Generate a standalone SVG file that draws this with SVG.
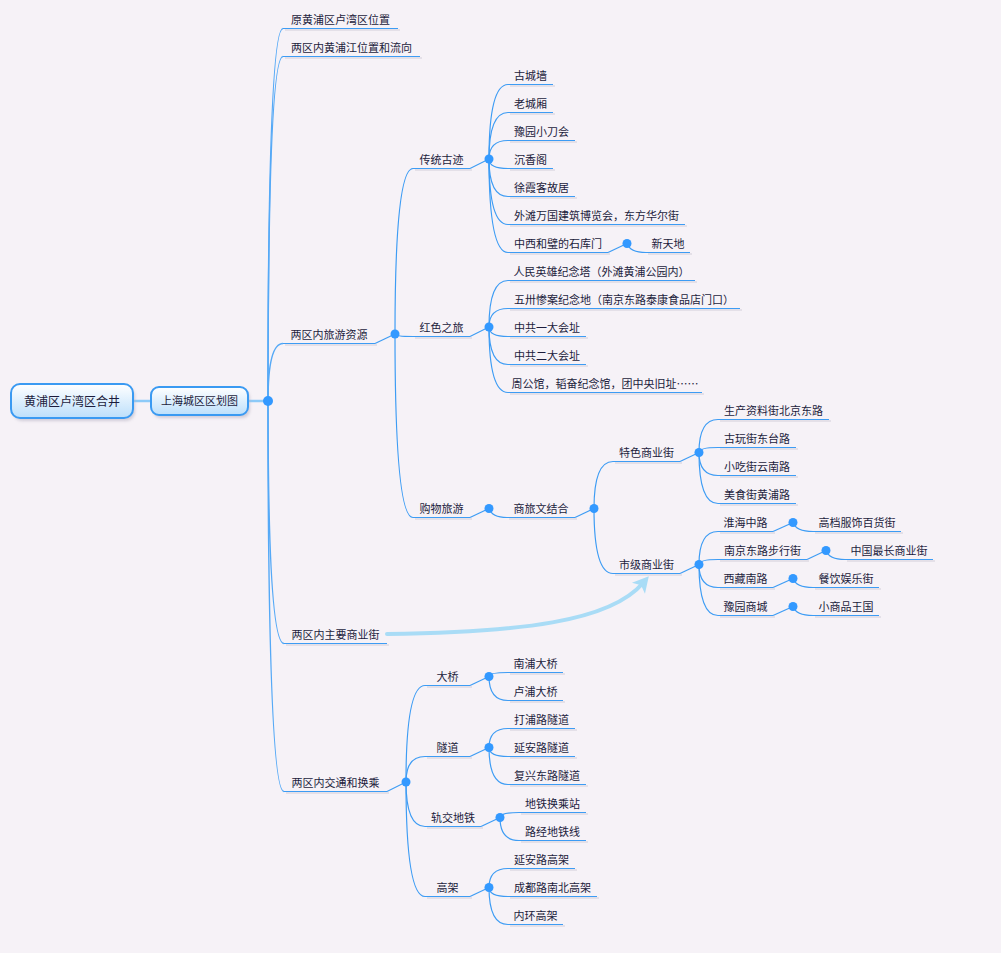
<svg xmlns="http://www.w3.org/2000/svg" width="1001" height="953" viewBox="0 0 1001 953">
<defs>
<style>
.t{font-family:"Noto Sans CJK SC","Noto Sans",sans-serif;font-size:11px;fill:#1c1c3c;text-anchor:middle}
.tr{font-family:"Noto Sans CJK SC","Noto Sans",sans-serif;font-size:12px;fill:#1c1c3c;text-anchor:middle}
.ul{stroke:#3d9cf4;stroke-width:1.2;fill:none}
.sh{stroke:#dedae3;stroke-width:1.5;fill:none}
.c{stroke:#3d9cf4;stroke-width:1.2;fill:none}
.c1{stroke:#55a9f6;stroke-width:1.5;fill:none}
.rc{stroke:#8ccaf8;stroke-width:2.5;fill:none}
.dot{fill:#3399ff}
.box{fill:url(#g);stroke:#3a9af2;stroke-width:2}
</style>
<linearGradient id="g" x1="0" y1="0" x2="0" y2="1">
<stop offset="0" stop-color="#ffffff"/>
<stop offset="1" stop-color="#bcdffb"/>
</linearGradient>
<filter id="ds" x="-20%" y="-30%" width="140%" height="180%">
<feGaussianBlur stdDeviation="1.5"/>
</filter>
<marker id="ah" viewBox="-14 -9 17 18" markerWidth="17" markerHeight="18" refX="-6" refY="0" orient="auto" markerUnits="userSpaceOnUse">
<path d="M3,0 L-13,-8.5 L-9,0 L-13,8.5 Z" fill="#a9dcf6"/>
</marker>
</defs>
<rect width="1001" height="953" fill="#f6f2f7"/>

<g id="connectors">
<line class="rc" x1="133" y1="401" x2="151" y2="401"/>
<line class="rc" x1="248" y1="401" x2="268" y2="401"/>
<path class="c1" d="M268,401 Q268,28.5 283,28.5"/>
<path class="c1" d="M268,401 Q268,56.5 283,56.5"/>
<path class="c1" d="M268,401 Q268,343.5 283,343.5"/>
<path class="c1" d="M268,401 Q268,643.5 284,643.5"/>
<path class="c1" d="M268,401 Q268,791.5 284,791.5"/>
<path class="c" d="M375,343.5 L395,334"/>
<path class="c" d="M395,334 Q395,168.5 413,168.5"/>
<path class="c" d="M395,334 Q395,336.5 413,336.5"/>
<path class="c" d="M395,334 Q395,517.5 413,517.5"/>
<path class="c" d="M470,168.5 L489,159"/>
<path class="c" d="M489,159 Q489,84.5 508,84.5"/>
<path class="c" d="M489,159 Q489,112.5 508,112.5"/>
<path class="c" d="M489,159 Q489,140.5 508,140.5"/>
<path class="c" d="M489,159 Q489,168.5 508,168.5"/>
<path class="c" d="M489,159 Q489,196.5 508,196.5"/>
<path class="c" d="M489,159 Q489,224.5 508,224.5"/>
<path class="c" d="M489,159 Q489,252.5 508,252.5"/>
<path class="c" d="M608,252.5 L627,243.5"/>
<path class="c" d="M627,243.5 Q630,252.5 646,252.5"/>
<path class="c" d="M470,336.5 L489,327"/>
<path class="c" d="M489,327 Q489,280.5 508,280.5"/>
<path class="c" d="M489,327 Q489,308.5 508,308.5"/>
<path class="c" d="M489,327 Q489,336.5 508,336.5"/>
<path class="c" d="M489,327 Q489,364.5 508,364.5"/>
<path class="c" d="M489,327 Q489,392.5 508,392.5"/>
<path class="c" d="M470,517.5 L489,508.5"/>
<path class="c" d="M489,508.5 Q492,517.5 507,517.5"/>
<path class="c" d="M575,517.5 L594,508.5"/>
<path class="c" d="M594,508.5 Q594,461.5 613,461.5"/>
<path class="c" d="M594,508.5 Q594,573.5 613,573.5"/>
<path class="c" d="M680,461.5 L699,452.5"/>
<path class="c" d="M699,452.5 Q699,419.5 718,419.5"/>
<path class="c" d="M699,452.5 Q699,447.5 718,447.5"/>
<path class="c" d="M699,452.5 Q699,475.5 718,475.5"/>
<path class="c" d="M699,452.5 Q699,503.5 718,503.5"/>
<path class="c" d="M680,573.5 L699,564.5"/>
<path class="c" d="M699,564.5 Q699,531.5 718,531.5"/>
<path class="c" d="M699,564.5 Q699,559.5 718,559.5"/>
<path class="c" d="M699,564.5 Q699,587.5 718,587.5"/>
<path class="c" d="M699,564.5 Q699,615.5 718,615.5"/>
<path class="c" d="M773,531.5 L793,522.5"/>
<path class="c" d="M793,522.5 Q796,531.5 813,531.5"/>
<path class="c" d="M807,559.5 L826,550.5"/>
<path class="c" d="M826,550.5 Q829,559.5 845,559.5"/>
<path class="c" d="M773,587.5 L793,578.5"/>
<path class="c" d="M793,578.5 Q796,587.5 813,587.5"/>
<path class="c" d="M773,615.5 L793,606.5"/>
<path class="c" d="M793,606.5 Q796,615.5 813,615.5"/>
<path class="c" d="M387,791.5 L406,782"/>
<path class="c" d="M406,782 Q406,685.5 425,685.5"/>
<path class="c" d="M406,782 Q406,756.5 425,756.5"/>
<path class="c" d="M406,782 Q406,826.5 425,826.5"/>
<path class="c" d="M406,782 Q406,896.5 425,896.5"/>
<path class="c" d="M470,685.5 L489,676.5"/>
<path class="c" d="M489,676.5 Q489,672.5 508,672.5"/>
<path class="c" d="M489,676.5 Q489,700.5 508,700.5"/>
<path class="c" d="M470,756.5 L489,747.5"/>
<path class="c" d="M489,747.5 Q489,728.5 508,728.5"/>
<path class="c" d="M489,747.5 Q489,756.5 508,756.5"/>
<path class="c" d="M489,747.5 Q489,784.5 508,784.5"/>
<path class="c" d="M481,826.5 L500,817.5"/>
<path class="c" d="M500,817.5 Q500,812.5 519,812.5"/>
<path class="c" d="M500,817.5 Q500,840.5 519,840.5"/>
<path class="c" d="M470,896.5 L489,887.5"/>
<path class="c" d="M489,887.5 Q489,868.5 508,868.5"/>
<path class="c" d="M489,887.5 Q489,896.5 508,896.5"/>
<path class="c" d="M489,887.5 Q489,924.5 508,924.5"/>
<circle class="dot" cx="268" cy="401" r="5"/>
<circle class="dot" cx="395" cy="334" r="4.5"/>
<circle class="dot" cx="489" cy="159" r="4.5"/>
<circle class="dot" cx="627" cy="243.5" r="4.5"/>
<circle class="dot" cx="489" cy="327" r="4.5"/>
<circle class="dot" cx="489" cy="508.5" r="4.5"/>
<circle class="dot" cx="594" cy="508.5" r="4.5"/>
<circle class="dot" cx="699" cy="452.5" r="4.5"/>
<circle class="dot" cx="699" cy="564.5" r="4.5"/>
<circle class="dot" cx="793" cy="522.5" r="4.5"/>
<circle class="dot" cx="826" cy="550.5" r="4.5"/>
<circle class="dot" cx="793" cy="578.5" r="4.5"/>
<circle class="dot" cx="793" cy="606.5" r="4.5"/>
<circle class="dot" cx="406" cy="782" r="4.5"/>
<circle class="dot" cx="489" cy="676.5" r="4.5"/>
<circle class="dot" cx="489" cy="747.5" r="4.5"/>
<circle class="dot" cx="500" cy="817.5" r="4.5"/>
<circle class="dot" cx="489" cy="887.5" r="4.5"/>
<path d="M387,634 C520,632 610,622 643,583" fill="none" stroke="#a9dcf6" stroke-width="4" stroke-linecap="round" marker-end="url(#ah)"/>
</g>

<g id="root">
<rect x="13" y="387" width="122" height="34" rx="9" fill="#b8b4c4" opacity="0.6" filter="url(#ds)"/>
<rect class="box" x="11" y="384" width="122" height="34" rx="9"/>
<text class="tr" x="72" y="405.5">黄浦区卢湾区合井</text>
</g>
<g id="n0">
<rect x="153" y="390" width="97" height="28" rx="8" fill="#b8b4c4" opacity="0.6" filter="url(#ds)"/>
<rect class="box" x="151" y="387" width="97" height="28" rx="8"/>
<text class="t" x="199.5" y="405">上海城区区划图</text>
</g>

<g id="n1"><line class="sh" x1="285" y1="30" x2="400" y2="30"/><line class="ul" x1="283" y1="28.5" x2="398" y2="28.5"/><text class="t" x="340.5" y="23.5">原黄浦区卢湾区位置</text></g>
<g id="n2"><line class="sh" x1="285" y1="58" x2="422" y2="58"/><line class="ul" x1="283" y1="56.5" x2="420" y2="56.5"/><text class="t" x="351.5" y="51.5">两区内黄浦江位置和流向</text></g>
<g id="n3"><line class="sh" x1="285" y1="345" x2="377" y2="345"/><line class="ul" x1="283" y1="343.5" x2="375" y2="343.5"/><text class="t" x="329" y="338.5">两区内旅游资源</text></g>
<g id="n4"><line class="sh" x1="286" y1="645" x2="389" y2="645"/><line class="ul" x1="284" y1="643.5" x2="387" y2="643.5"/><text class="t" x="335.5" y="638.5">两区内主要商业街</text></g>
<g id="n5"><line class="sh" x1="286" y1="793" x2="389" y2="793"/><line class="ul" x1="284" y1="791.5" x2="387" y2="791.5"/><text class="t" x="335.5" y="786.5">两区内交通和换乘</text></g>

<g id="n3a"><line class="sh" x1="415" y1="170" x2="472" y2="170"/><line class="ul" x1="413" y1="168.5" x2="470" y2="168.5"/><text class="t" x="441.5" y="163.5">传统古迹</text></g>
<g id="n3a1"><line class="sh" x1="510" y1="86" x2="555" y2="86"/><line class="ul" x1="508" y1="84.5" x2="553" y2="84.5"/><text class="t" x="530.5" y="79.5">古城墙</text></g>
<g id="n3a2"><line class="sh" x1="510" y1="114" x2="555" y2="114"/><line class="ul" x1="508" y1="112.5" x2="553" y2="112.5"/><text class="t" x="530.5" y="107.5">老城厢</text></g>
<g id="n3a3"><line class="sh" x1="510" y1="142" x2="577" y2="142"/><line class="ul" x1="508" y1="140.5" x2="575" y2="140.5"/><text class="t" x="541.5" y="135.5">豫园小刀会</text></g>
<g id="n3a4"><line class="sh" x1="510" y1="170" x2="555" y2="170"/><line class="ul" x1="508" y1="168.5" x2="553" y2="168.5"/><text class="t" x="530.5" y="163.5">沉香阁</text></g>
<g id="n3a5"><line class="sh" x1="510" y1="198" x2="577" y2="198"/><line class="ul" x1="508" y1="196.5" x2="575" y2="196.5"/><text class="t" x="541.5" y="191.5">徐霞客故居</text></g>
<g id="n3a6"><line class="sh" x1="510" y1="226" x2="687" y2="226"/><line class="ul" x1="508" y1="224.5" x2="685" y2="224.5"/><text class="t" x="596.5" y="219.5">外滩万国建筑博览会，东方华尔街</text></g>
<g id="n3a7"><line class="sh" x1="510" y1="254" x2="610" y2="254"/><line class="ul" x1="508" y1="252.5" x2="608" y2="252.5"/><text class="t" x="558" y="247.5">中西和璧的石库门</text></g>
<g id="n3a7a"><line class="sh" x1="648" y1="254" x2="692" y2="254"/><line class="ul" x1="646" y1="252.5" x2="690" y2="252.5"/><text class="t" x="668" y="247.5">新天地</text></g>

<g id="n3b"><line class="sh" x1="415" y1="338" x2="472" y2="338"/><line class="ul" x1="413" y1="336.5" x2="470" y2="336.5"/><text class="t" x="441.5" y="331.5">红色之旅</text></g>
<g id="n3b1"><line class="sh" x1="510" y1="282" x2="697" y2="282"/><line class="ul" x1="508" y1="280.5" x2="695" y2="280.5"/><text class="t" x="601.5" y="275.5">人民英雄纪念塔（外滩黄浦公园内）</text></g>
<g id="n3b2"><line class="sh" x1="510" y1="310" x2="742" y2="310"/><line class="ul" x1="508" y1="308.5" x2="740" y2="308.5"/><text class="t" x="624" y="303.5">五卅惨案纪念地（南京东路泰康食品店门口）</text></g>
<g id="n3b3"><line class="sh" x1="510" y1="338" x2="588" y2="338"/><line class="ul" x1="508" y1="336.5" x2="586" y2="336.5"/><text class="t" x="547" y="331.5">中共一大会址</text></g>
<g id="n3b4"><line class="sh" x1="510" y1="366" x2="588" y2="366"/><line class="ul" x1="508" y1="364.5" x2="586" y2="364.5"/><text class="t" x="547" y="359.5">中共二大会址</text></g>
<g id="n3b5"><line class="sh" x1="510" y1="394" x2="704" y2="394"/><line class="ul" x1="508" y1="392.5" x2="702" y2="392.5"/><text class="t" x="605" y="387.5">周公馆，韬奋纪念馆，团中央旧址……</text></g>

<g id="n3c"><line class="sh" x1="415" y1="519" x2="472" y2="519"/><line class="ul" x1="413" y1="517.5" x2="470" y2="517.5"/><text class="t" x="441.5" y="512.5">购物旅游</text></g>
<g id="n3c1"><line class="sh" x1="509" y1="519" x2="577" y2="519"/><line class="ul" x1="507" y1="517.5" x2="575" y2="517.5"/><text class="t" x="541" y="512.5">商旅文结合</text></g>
<g id="n3c1a"><line class="sh" x1="615" y1="463" x2="682" y2="463"/><line class="ul" x1="613" y1="461.5" x2="680" y2="461.5"/><text class="t" x="646.5" y="456.5">特色商业街</text></g>
<g id="n3c1a1"><line class="sh" x1="720" y1="421" x2="831" y2="421"/><line class="ul" x1="718" y1="419.5" x2="829" y2="419.5"/><text class="t" x="773.5" y="414.5">生产资料街北京东路</text></g>
<g id="n3c1a2"><line class="sh" x1="720" y1="449" x2="798" y2="449"/><line class="ul" x1="718" y1="447.5" x2="796" y2="447.5"/><text class="t" x="757" y="442.5">古玩街东台路</text></g>
<g id="n3c1a3"><line class="sh" x1="720" y1="477" x2="798" y2="477"/><line class="ul" x1="718" y1="475.5" x2="796" y2="475.5"/><text class="t" x="757" y="470.5">小吃街云南路</text></g>
<g id="n3c1a4"><line class="sh" x1="720" y1="505" x2="798" y2="505"/><line class="ul" x1="718" y1="503.5" x2="796" y2="503.5"/><text class="t" x="757" y="498.5">美食街黄浦路</text></g>
<g id="n3c1b"><line class="sh" x1="615" y1="575" x2="682" y2="575"/><line class="ul" x1="613" y1="573.5" x2="680" y2="573.5"/><text class="t" x="646.5" y="568.5">市级商业街</text></g>
<g id="n3c1b1"><line class="sh" x1="720" y1="533" x2="775" y2="533"/><line class="ul" x1="718" y1="531.5" x2="773" y2="531.5"/><text class="t" x="745.5" y="526.5">淮海中路</text></g>
<g id="n3c1b1a"><line class="sh" x1="815" y1="533" x2="903" y2="533"/><line class="ul" x1="813" y1="531.5" x2="901" y2="531.5"/><text class="t" x="857" y="526.5">高档服饰百货街</text></g>
<g id="n3c1b2"><line class="sh" x1="720" y1="561" x2="809" y2="561"/><line class="ul" x1="718" y1="559.5" x2="807" y2="559.5"/><text class="t" x="762.5" y="554.5">南京东路步行街</text></g>
<g id="n3c1b2a"><line class="sh" x1="847" y1="561" x2="935" y2="561"/><line class="ul" x1="845" y1="559.5" x2="933" y2="559.5"/><text class="t" x="889" y="554.5">中国最长商业街</text></g>
<g id="n3c1b3"><line class="sh" x1="720" y1="589" x2="775" y2="589"/><line class="ul" x1="718" y1="587.5" x2="773" y2="587.5"/><text class="t" x="745.5" y="582.5">西藏南路</text></g>
<g id="n3c1b3a"><line class="sh" x1="815" y1="589" x2="881" y2="589"/><line class="ul" x1="813" y1="587.5" x2="879" y2="587.5"/><text class="t" x="846" y="582.5">餐饮娱乐街</text></g>
<g id="n3c1b4"><line class="sh" x1="720" y1="617" x2="775" y2="617"/><line class="ul" x1="718" y1="615.5" x2="773" y2="615.5"/><text class="t" x="745.5" y="610.5">豫园商城</text></g>
<g id="n3c1b4a"><line class="sh" x1="815" y1="617" x2="881" y2="617"/><line class="ul" x1="813" y1="615.5" x2="879" y2="615.5"/><text class="t" x="846" y="610.5">小商品王国</text></g>

<g id="n5a"><line class="sh" x1="427" y1="687" x2="472" y2="687"/><line class="ul" x1="425" y1="685.5" x2="470" y2="685.5"/><text class="t" x="447.5" y="680.5">大桥</text></g>
<g id="n5a1"><line class="sh" x1="510" y1="674" x2="565" y2="674"/><line class="ul" x1="508" y1="672.5" x2="563" y2="672.5"/><text class="t" x="535.5" y="667.5">南浦大桥</text></g>
<g id="n5a2"><line class="sh" x1="510" y1="702" x2="565" y2="702"/><line class="ul" x1="508" y1="700.5" x2="563" y2="700.5"/><text class="t" x="535.5" y="695.5">卢浦大桥</text></g>
<g id="n5b"><line class="sh" x1="427" y1="758" x2="472" y2="758"/><line class="ul" x1="425" y1="756.5" x2="470" y2="756.5"/><text class="t" x="447.5" y="751.5">隧道</text></g>
<g id="n5b1"><line class="sh" x1="510" y1="730" x2="577" y2="730"/><line class="ul" x1="508" y1="728.5" x2="575" y2="728.5"/><text class="t" x="541.5" y="723.5">打浦路隧道</text></g>
<g id="n5b2"><line class="sh" x1="510" y1="758" x2="577" y2="758"/><line class="ul" x1="508" y1="756.5" x2="575" y2="756.5"/><text class="t" x="541.5" y="751.5">延安路隧道</text></g>
<g id="n5b3"><line class="sh" x1="510" y1="786" x2="588" y2="786"/><line class="ul" x1="508" y1="784.5" x2="586" y2="784.5"/><text class="t" x="547" y="779.5">复兴东路隧道</text></g>
<g id="n5c"><line class="sh" x1="427" y1="828" x2="483" y2="828"/><line class="ul" x1="425" y1="826.5" x2="481" y2="826.5"/><text class="t" x="453" y="821.5">轨交地铁</text></g>
<g id="n5c1"><line class="sh" x1="521" y1="814" x2="588" y2="814"/><line class="ul" x1="519" y1="812.5" x2="586" y2="812.5"/><text class="t" x="552.5" y="807.5">地铁换乘站</text></g>
<g id="n5c2"><line class="sh" x1="521" y1="842" x2="588" y2="842"/><line class="ul" x1="519" y1="840.5" x2="586" y2="840.5"/><text class="t" x="552.5" y="835.5">路经地铁线</text></g>
<g id="n5d"><line class="sh" x1="427" y1="898" x2="472" y2="898"/><line class="ul" x1="425" y1="896.5" x2="470" y2="896.5"/><text class="t" x="447.5" y="891.5">高架</text></g>
<g id="n5d1"><line class="sh" x1="510" y1="870" x2="577" y2="870"/><line class="ul" x1="508" y1="868.5" x2="575" y2="868.5"/><text class="t" x="541.5" y="863.5">延安路高架</text></g>
<g id="n5d2"><line class="sh" x1="510" y1="898" x2="599" y2="898"/><line class="ul" x1="508" y1="896.5" x2="597" y2="896.5"/><text class="t" x="552.5" y="891.5">成都路南北高架</text></g>
<g id="n5d3"><line class="sh" x1="510" y1="926" x2="565" y2="926"/><line class="ul" x1="508" y1="924.5" x2="563" y2="924.5"/><text class="t" x="535.5" y="919.5">内环高架</text></g>
</svg>
